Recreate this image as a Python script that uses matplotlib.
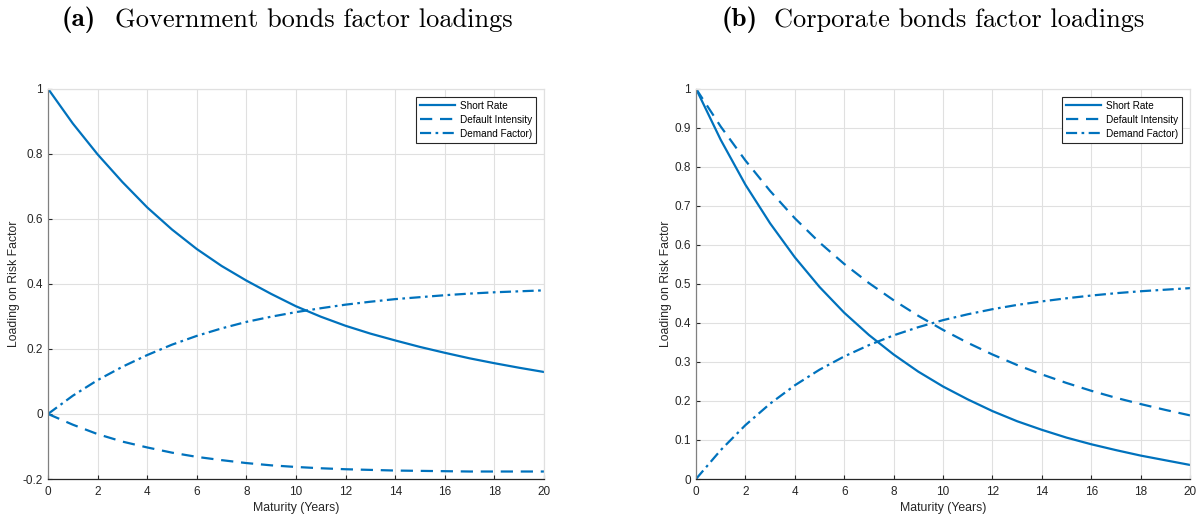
import matplotlib
matplotlib.use("Agg")
import matplotlib.pyplot as plt

plt.rcParams['font.family'] = ['Liberation Sans', 'DejaVu Sans']

# maturities (years)
maturity = list(range(0, 21))

# government bonds loadings
gov_short = [1.000, 0.893, 0.798, 0.713, 0.635, 0.567, 0.507, 0.455, 0.410, 0.369, 0.331,
             0.299, 0.271, 0.247, 0.226, 0.206, 0.188, 0.171, 0.156, 0.142, 0.129]
gov_default = [0.000, -0.033, -0.062, -0.085, -0.103, -0.119, -0.132, -0.142, -0.151, -0.158, -0.163,
               -0.167, -0.170, -0.172, -0.174, -0.175, -0.176, -0.177, -0.177, -0.177, -0.177]
gov_demand = [0.000, 0.056, 0.104, 0.145, 0.181, 0.213, 0.240, 0.263, 0.283, 0.299, 0.313,
              0.325, 0.336, 0.345, 0.353, 0.359, 0.365, 0.370, 0.374, 0.377, 0.380]

# corporate bonds loadings
corp_short = [1.000, 0.869, 0.754, 0.655, 0.568, 0.492, 0.426, 0.369, 0.319, 0.275, 0.237,
              0.204, 0.174, 0.148, 0.126, 0.106, 0.089, 0.074, 0.060, 0.048, 0.036]
corp_default = [1.000, 0.903, 0.816, 0.738, 0.668, 0.606, 0.551, 0.502, 0.458, 0.418, 0.382,
                0.349, 0.319, 0.292, 0.268, 0.246, 0.226, 0.208, 0.192, 0.177, 0.163]
corp_demand = [0.000, 0.074, 0.138, 0.193, 0.240, 0.280, 0.314, 0.343, 0.368, 0.389, 0.407,
               0.422, 0.435, 0.446, 0.455, 0.463, 0.470, 0.476, 0.481, 0.485, 0.489]

labels = ['Short Rate', 'Default Intensity', 'Demand Factor)']
blue = '#0072BD'

fig = plt.figure(figsize=(12, 5.17), dpi=100)
ax1 = fig.add_axes([0.04, 0.0735, 0.4133, 0.755])
ax2 = fig.add_axes([0.58, 0.0735, 0.4117, 0.755])


def fmt(v):
    s = ('%.1f' % v).rstrip('0').rstrip('.')
    if s in ('-0', ''):
        s = '0'
    return s


def style_axes(ax, ylim, yticks):
    ax.set_xlim(0, 20)
    ax.set_ylim(*ylim)
    ax.set_xticks(range(0, 21, 2))
    ax.set_yticks(yticks)
    ax.set_yticklabels([fmt(v) for v in yticks])
    ax.grid(True, color='#e0e0e0', linewidth=0.8)
    ax.set_axisbelow(True)
    ax.tick_params(direction='in', length=3, labelsize=8.5, colors='#262626', width=0.8)
    ax.tick_params(axis='x', pad=5)
    ax.spines['left'].set_color('#808080')
    ax.spines['bottom'].set_color('#262626')
    ax.spines['top'].set_color('#e0e0e0')
    ax.spines['right'].set_color('#e0e0e0')
    for s in ax.spines.values():
        s.set_linewidth(0.9)
    ax.set_xlabel('Maturity (Years)', fontsize=8.8, color='#262626', labelpad=3)
    ax.set_ylabel('Loading on Risk Factor', fontsize=8.8, color='#262626', labelpad=2)


for ax, sr, di, dm in [(ax1, gov_short, gov_default, gov_demand),
                       (ax2, corp_short, corp_default, corp_demand)]:
    ax.plot(maturity, sr, color=blue, lw=1.6, ls='-', label=labels[0])
    ax.plot(maturity, di, color=blue, lw=1.6, ls=(0, (5.5, 3.5)), label=labels[1])
    ax.plot(maturity, dm, color=blue, lw=1.6, ls=(0, (5, 2, 1.2, 2)), label=labels[2])
    leg = ax.legend(loc='upper right', fontsize=7.2, fancybox=False, framealpha=1,
                    edgecolor='#262626', borderaxespad=0.8, handlelength=3.5,
                    labelspacing=0.4, borderpad=0.4, handletextpad=0.5)
    leg.get_frame().set_linewidth(0.8)

style_axes(ax1, (-0.2, 1), [-0.2, 0, 0.2, 0.4, 0.6, 0.8, 1])
style_axes(ax2, (0, 1), [i / 10 for i in range(11)])

# panel titles: bold tag + roman text
for x_tag, x_txt, tag, txt in [(62, 115, '(a)', 'Government bonds factor loadings'),
                               (722, 774, '(b)', 'Corporate bonds factor loadings')]:
    fig.text(x_tag / 1200, 0.962, tag, fontsize=19.5, family='cmb10', ha='left', va='center')
    fig.text(x_txt / 1200, 0.962, txt, fontsize=19, family='cmr10', ha='left', va='center')

fig.savefig('out.png', dpi=100)
